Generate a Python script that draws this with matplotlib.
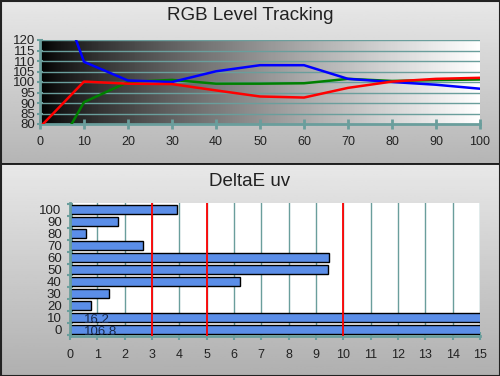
import numpy as np
import matplotlib.pyplot as plt

plt.rcParams['font.family'] = ['Liberation Sans', 'DejaVu Sans']

# RGB level tracking data
levels = [0, 10, 20, 30, 40, 50, 60, 70, 80, 90, 100]
red = [78.5, 100.2, 99.2, 99.0, 96.0, 93.1, 92.6, 97.2, 100.2, 101.5, 102.0]
green = [53.5, 90.4, 100.0, 101.0, 99.2, 99.2, 99.4, 101.5, 100.5, 100.9, 101.2]
blue = [167.0, 109.6, 100.7, 100.0, 105.1, 108.0, 108.0, 101.5, 100.0, 98.7, 96.8]

# DeltaE uv data
de_levels = [0, 10, 20, 30, 40, 50, 60, 70, 80, 90, 100]
de_values = [106.8, 16.2, 0.76, 1.41, 6.23, 9.43, 9.46, 2.66, 0.57, 1.77, 3.9]
de_limits = [3, 5, 10]

teal = '#6a9e9c'
txt = '#222222'

W, H = 500, 376
fig = plt.figure(figsize=(5, 3.76), dpi=100)

# panel backgrounds
bg = fig.add_axes([0, 0, 1, 1])
bg.axis('off')
g = np.linspace(0, 1, 100)[:, None]
top_grad = 0.91 - 0.20 * g
bot_grad = 0.91 - 0.22 * g
bg.imshow(top_grad, cmap='gray', vmin=0, vmax=1, extent=[0, W, 164, 0], aspect='auto')
bg.imshow(bot_grad, cmap='gray', vmin=0, vmax=1, extent=[0, W, H, 164], aspect='auto')
bg.plot([0, W], [164, 164], color='black', lw=1.2)
bg.plot([0.5, W - 0.5, W - 0.5, 0.5, 0.5], [0.5, 0.5, H - 0.5, H - 0.5, 0.5], color='#222222', lw=1.5)
bg.set_xlim(0, W)
bg.set_ylim(H, 0)

fig.text(0.5, 1 - 15 / H, 'RGB Level Tracking', ha='center', va='center', fontsize=13.5, color=txt)
fig.text(0.5, 1 - 181 / H, 'DeltaE uv', ha='center', va='center', fontsize=13.5, color=txt)

# top chart
ax1 = fig.add_axes([40 / W, 1 - 124 / H, 440 / W, 84 / H])
grad = np.linspace(0, 1, 256)[None, :] ** 0.8
ax1.imshow(grad, cmap='gray', vmin=0, vmax=1, extent=[0, 100, 80, 120], aspect='auto', zorder=0)
for yv in range(85, 121, 5):
    ax1.axhline(yv, color=teal, lw=1, zorder=1)
ax1.plot(levels, green, color='#008000', lw=1.8, zorder=3)
ax1.plot(levels, blue, color='#0000ff', lw=1.8, zorder=4)
ax1.plot(levels, red, color='#ff0000', lw=1.8, zorder=5)
ax1.set_xlim(0, 100)
ax1.set_ylim(80, 120)
ax1.set_xticks(range(0, 101, 10))
ax1.set_yticks(range(80, 121, 5))
for s in ['top', 'right']:
    ax1.spines[s].set_visible(False)
for s in ['left', 'bottom']:
    ax1.spines[s].set_color(teal)
    ax1.spines[s].set_linewidth(2)
ax1.tick_params(axis='x', direction='inout', length=7, width=2, color=teal, labelsize=9, labelcolor=txt, pad=5)
ax1.tick_params(axis='y', direction='inout', length=5, width=1.5, color=teal, labelsize=9.5, labelcolor=txt, pad=1)

# bottom chart
ax2 = fig.add_axes([70 / W, 1 - 336 / H, 410 / W, 133 / H])
ax2.set_facecolor('white')
for xv in range(1, 16):
    ax2.axvline(xv, color=teal, lw=1, zorder=1)
ax2.barh(de_levels, de_values, height=8, color='#5b8ee8', edgecolor='black', lw=1, zorder=2)
for xv in de_limits:
    ax2.axvline(xv, color='#ff0000', lw=1.3, zorder=3)
for yv, v in zip(de_levels[:2], de_values[:2]):
    ax2.text(0.5, yv - 2, str(v), fontsize=9.5, color='#1a2a4a', va='center', ha='left', zorder=4)
ax2.set_xlim(0, 15)
ax2.set_ylim(-5.5, 105.5)
ax2.set_xticks(range(0, 16))
ax2.set_yticks(de_levels)
ax2.set_yticks(np.arange(-5, 106, 10), minor=True)
for s in ['top', 'right']:
    ax2.spines[s].set_visible(False)
for s in ['left', 'bottom']:
    ax2.spines[s].set_color(teal)
    ax2.spines[s].set_linewidth(2)
ax2.tick_params(axis='x', direction='inout', length=6, width=1.5, color=teal, labelsize=9, labelcolor=txt, pad=6)
ax2.tick_params(axis='y', which='major', length=0, labelsize=9.5, labelcolor=txt, pad=6)
ax2.tick_params(axis='y', which='minor', direction='inout', length=5, width=1.5, color=teal)

plt.savefig('out.png', dpi=100)
